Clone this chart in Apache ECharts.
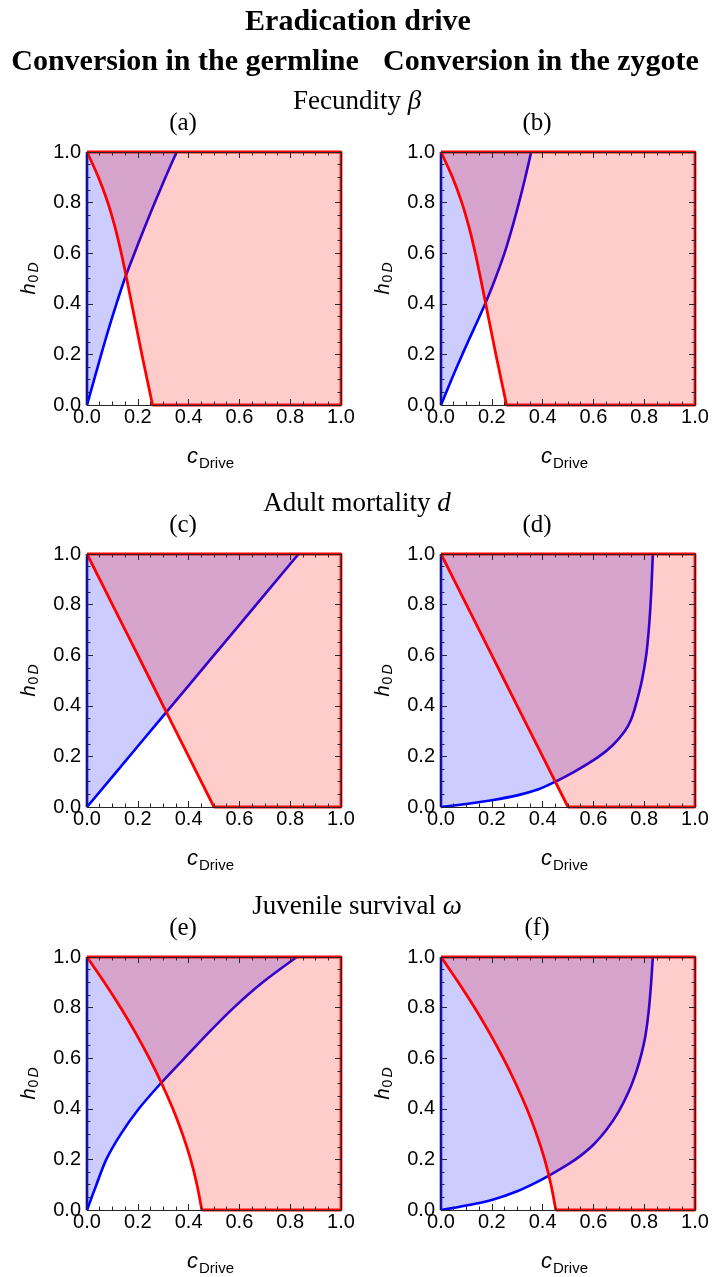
<!DOCTYPE html>
<html>
<head>
<meta charset="utf-8">
<script src="https://cdn.jsdelivr.net/npm/echarts@6/dist/echarts.min.js"></script>
<style>
  html, body { margin: 0; padding: 0; background: #fff; }
  #chart { width: 712px; height: 1277px; }
</style>
</head>
<body>
<div id="chart"></div>
<script>
// boundary curves, as [c_Drive, h_0D]
// red: same curve for germline and zygote in each row
const redFecundity = [[0, 1], [0.045, 0.9], [0.082, 0.8], [0.111, 0.7], [0.135, 0.6], [0.156, 0.5],
  [0.176, 0.4], [0.196, 0.3], [0.216, 0.2], [0.237, 0.1], [0.258, 0]];
const redMortality = [[0, 1], [0.1, 0.8], [0.2, 0.6], [0.3, 0.4], [0.4, 0.2], [0.5, 0]];
const redJuvenile = [[0, 1], [0.068, 0.9], [0.132, 0.8], [0.191, 0.7], [0.245, 0.6], [0.294, 0.5],
  [0.338, 0.4], [0.376, 0.3], [0.408, 0.2], [0.433, 0.1], [0.452, 0]];

// blue curves, one per panel (a)-(f)
const blueA = [[0, 0], [0.028, 0.1], [0.056, 0.2], [0.085, 0.3], [0.116, 0.4], [0.149, 0.5],
  [0.187, 0.6], [0.226, 0.7], [0.267, 0.8], [0.309, 0.9], [0.353, 1]];
const blueB = [[0, 0], [0.041, 0.1], [0.084, 0.2], [0.129, 0.3], [0.174, 0.4], [0.214, 0.5],
  [0.25, 0.6], [0.28, 0.7], [0.307, 0.8], [0.332, 0.9], [0.355, 1]];
const blueC = [[0, 0], [0.2, 0.24], [0.4, 0.48], [0.6, 0.72], [0.833, 1]];
const blueD = [[0, 0], [0.1, 0.012], [0.2, 0.027], [0.3, 0.046], [0.384, 0.07], [0.444, 0.097],
  [0.531, 0.143], [0.617, 0.196], [0.675, 0.243], [0.724, 0.3], [0.748, 0.345], [0.766, 0.4],
  [0.791, 0.5], [0.808, 0.6], [0.818, 0.7], [0.825, 0.8], [0.83, 0.9], [0.834, 1]];
const blueE = [[0, 0], [0.037, 0.1], [0.076, 0.2], [0.133, 0.3], [0.204, 0.4], [0.29, 0.5],
  [0.384, 0.6], [0.478, 0.7], [0.578, 0.8], [0.692, 0.9], [0.826, 1]];
const blueF = [[0, 0], [0.1, 0.018], [0.2, 0.04], [0.3, 0.074], [0.4, 0.122], [0.5, 0.18],
  [0.55, 0.215], [0.6, 0.258], [0.65, 0.315], [0.7, 0.39], [0.74, 0.47], [0.77, 0.55],
  [0.79, 0.62], [0.805, 0.69], [0.817, 0.78], [0.826, 0.88], [0.834, 1]];

const panelLabels = ['(a)', '(b)', '(c)', '(d)', '(e)', '(f)'];
const blues = [blueA, blueB, blueC, blueD, blueE, blueF];
const reds = [redFecundity, redFecundity, redMortality, redMortality, redJuvenile, redJuvenile];

const lefts = [87, 441];
const tops = [152, 554, 957];
const W = 254, H = 253;
const sans = '"Liberation Sans", Arial, sans-serif';
const serif = '"Liberation Serif", "Times New Roman", serif';
const frame = '#262626';

const grids = [], xAxes = [], yAxes = [], series = [], graphics = [];

function axis(i, pos) {
  const showLabel = pos === 'bottom' || pos === 'left';
  return {
    type: 'value', gridIndex: i, min: 0, max: 1, interval: 0.2, position: pos, z: 10,
    axisLine: { show: true, onZero: false, lineStyle: { color: frame, width: 1 } },
    axisTick: { show: true, inside: true, length: 6, lineStyle: { color: frame, width: 1 } },
    minorTick: { show: true, splitNumber: 4, length: 3.5, lineStyle: { color: frame, width: 1 } },
    splitLine: { show: false },
    minorSplitLine: { show: false },
    axisLabel: {
      show: showLabel, margin: pos === 'bottom' ? 2 : 6,
      fontFamily: sans, fontSize: 20, color: '#000',
      formatter: v => v.toFixed(1)
    }
  };
}

for (let i = 0; i < 6; i++) {
  const left = lefts[i % 2], top = tops[Math.floor(i / 2)];
  grids.push({ left: left, top: top, width: W, height: H });
  xAxes.push(axis(i, 'bottom'), axis(i, 'top'));
  yAxes.push(axis(i, 'left'), axis(i, 'right'));
  const xi = 2 * i, yi = 2 * i;
  const base = { type: 'line', xAxisIndex: xi, yAxisIndex: yi, showSymbol: false, symbol: 'none', silent: true, clip: false };
  const red = reds[i];
  const x0 = red[red.length - 1][0];

  // blue region: above the blue curve
  series.push(Object.assign({}, base, {
    data: blues[i], smooth: 0.3, z: 2,
    lineStyle: { color: '#0000ff', width: 2.6 },
    areaStyle: { color: 'rgba(0,0,255,0.2)', opacity: 1, origin: 'end' }
  }));
  series.push(Object.assign({}, base, {
    data: [[0, 1], [0, 0]], z: 2,
    lineStyle: { color: '#0000ff', width: 2.6 }
  }));
  // red region: right of the red curve
  series.push(Object.assign({}, base, {
    data: red.concat([[1, 0]]), z: 3,
    lineStyle: { width: 0, opacity: 0 },
    areaStyle: { color: 'rgba(255,0,0,0.2)', opacity: 1, origin: 'end' }
  }));
  series.push(Object.assign({}, base, {
    data: red, smooth: 0.3, z: 4,
    lineStyle: { color: '#ff0000', width: 2.8 }
  }));
  series.push(Object.assign({}, base, {
    data: [[x0, 0], [1, 0], [1, 1], [0, 1]], z: 4,
    lineStyle: { color: '#ff0000', width: 2.8 }
  }));

  // panel letter
  graphics.push({ type: 'text', x: left + 96, y: top - 29, silent: true,
    style: { text: panelLabels[i], fontFamily: serif, fontSize: 25, fill: '#000', align: 'center', verticalAlign: 'middle' } });
  // x axis name c_Drive
  graphics.push({ type: 'text', x: left + 111, y: top + H + 52, silent: true,
    style: { text: 'c', fontFamily: sans, fontStyle: 'italic', fontSize: 22, fill: '#000', align: 'right', verticalAlign: 'middle' } });
  graphics.push({ type: 'text', x: left + 112, y: top + H + 59, silent: true,
    style: { text: 'Drive', fontFamily: sans, fontSize: 15, fill: '#000', align: 'left', verticalAlign: 'middle' } });
  // y axis name h_0D, rotated
  graphics.push({ type: 'group', x: left - 58, y: top + H / 2 - 2, rotation: Math.PI / 2, silent: true,
    children: [
      { type: 'text', x: -7, y: 0, style: { text: 'h', fontFamily: sans, fontStyle: 'italic', fontSize: 20, fill: '#000', align: 'right', verticalAlign: 'middle' } },
      { type: 'text', x: -6, y: 5, style: { text: '0', fontFamily: sans, fontSize: 14, fill: '#000', align: 'left', verticalAlign: 'middle' } },
      { type: 'text', x: 4, y: 5, style: { text: 'D', fontFamily: sans, fontStyle: 'italic', fontSize: 14, fill: '#000', align: 'left', verticalAlign: 'middle' } }
    ] });
}

// headings
graphics.push({ type: 'text', x: 358, y: 22, silent: true,
  style: { text: 'Eradication drive', fontFamily: serif, fontWeight: 'bold', fontSize: 30, fill: '#000', align: 'center', verticalAlign: 'middle' } });
graphics.push({ type: 'text', x: 185, y: 62, silent: true,
  style: { text: 'Conversion in the germline', fontFamily: serif, fontWeight: 'bold', fontSize: 30, fill: '#000', align: 'center', verticalAlign: 'middle' } });
graphics.push({ type: 'text', x: 541, y: 62, silent: true,
  style: { text: 'Conversion in the zygote', fontFamily: serif, fontWeight: 'bold', fontSize: 30, fill: '#000', align: 'center', verticalAlign: 'middle' } });

const rowTitles = [['Fecundity ', 'β'], ['Adult mortality ', 'd'], ['Juvenile survival ', 'ω']];
rowTitles.forEach((t, r) => {
  graphics.push({ type: 'text', x: 357, y: tops[r] - 50, silent: true,
    style: {
      text: '{n|' + t[0] + '}{i|' + t[1] + '}', align: 'center', verticalAlign: 'middle',
      rich: {
        n: { fontFamily: serif, fontSize: 27, fill: '#000' },
        i: { fontFamily: serif, fontSize: 27, fontStyle: 'italic', fill: '#000' }
      }
    } });
});

const chart = echarts.init(document.getElementById('chart'), null, { renderer: 'canvas' });
chart.setOption({
  animation: false,
  backgroundColor: '#fff',
  grid: grids,
  xAxis: xAxes,
  yAxis: yAxes,
  series: series,
  graphic: graphics
});
</script>
</body>
</html>
